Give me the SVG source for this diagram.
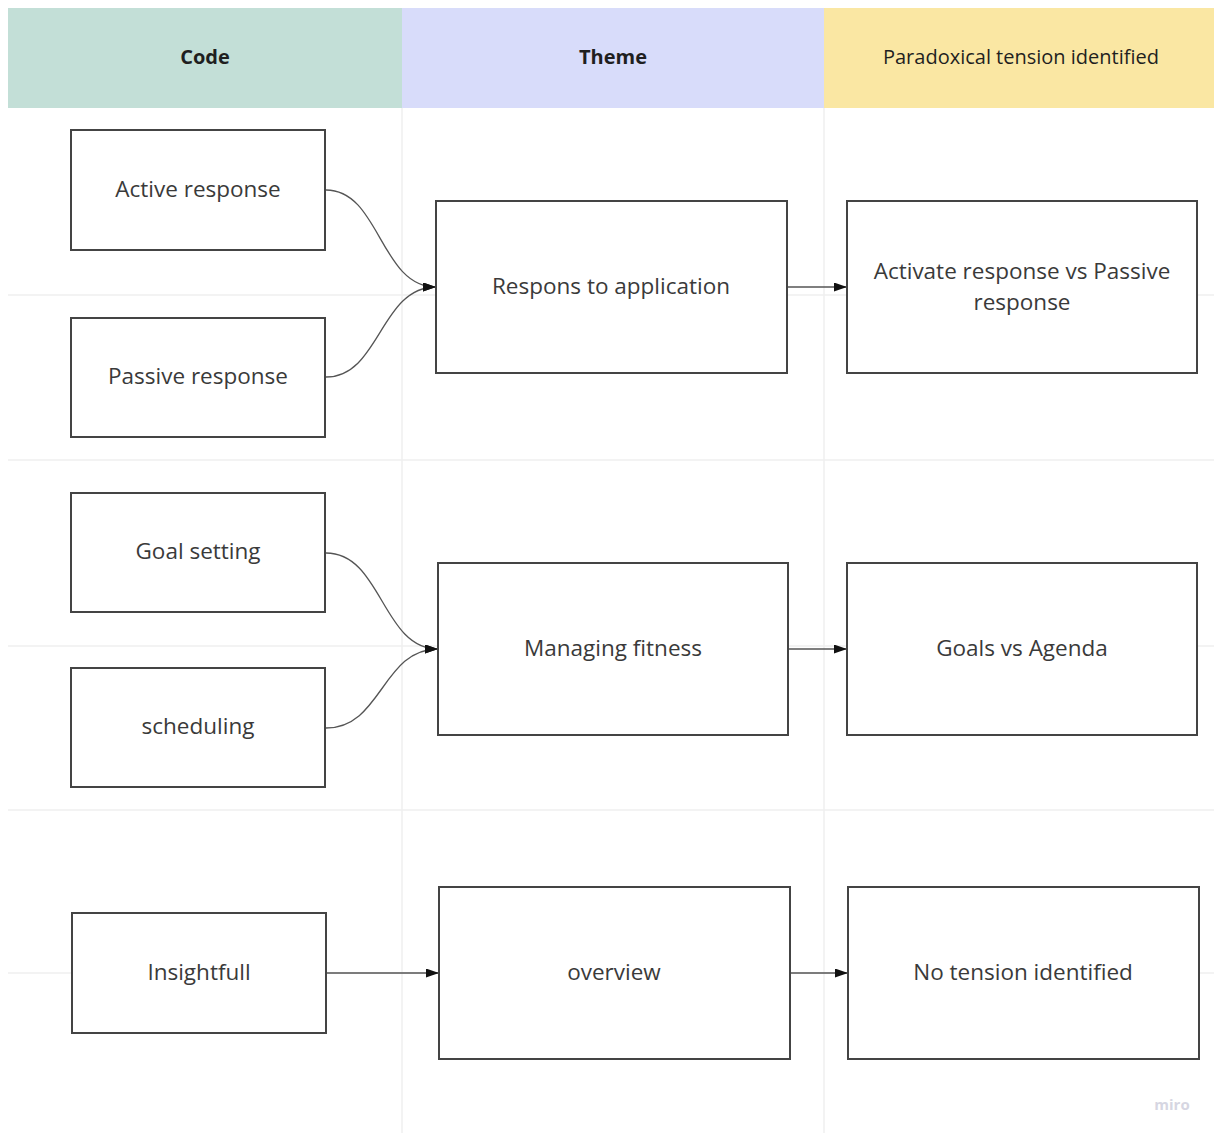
<svg xmlns="http://www.w3.org/2000/svg" width="1214" height="1133" viewBox="0 0 1214 1133">
  <style>
    .grid { stroke: #efefef; stroke-width: 1.5; fill: none; }
    .box { fill: #ffffff; stroke: #444444; stroke-width: 2; }
    .label { font-family: "Open Sans", "Noto Sans", sans-serif; font-size: 22.5px; fill: #3a3a3a; text-anchor: middle; }
    .head { font-family: "Open Sans", "Noto Sans", sans-serif; font-size: 20px; fill: #1f1f1f; text-anchor: middle; }
    .link { fill: none; stroke: #555555; stroke-width: 1.3; }
  </style>
  <defs>
    <marker id="arrow" viewBox="0 0 13 9" refX="13" refY="4.5" markerWidth="13" markerHeight="9" markerUnits="userSpaceOnUse" orient="auto">
      <path d="M0,0 L13,4.5 L0,9 Z" fill="#111111"/>
    </marker>
  </defs>
  <rect width="1214" height="1133" fill="#ffffff"/>

  <!-- table grid -->
  <g id="grid">
    <line class="grid" x1="402" y1="108" x2="402" y2="1133"/>
    <line class="grid" x1="824" y1="108" x2="824" y2="1133"/>
    <line class="grid" x1="8" y1="295" x2="1214" y2="295"/>
    <line class="grid" x1="8" y1="460" x2="1214" y2="460"/>
    <line class="grid" x1="8" y1="646" x2="1214" y2="646"/>
    <line class="grid" x1="8" y1="810" x2="1214" y2="810"/>
    <line class="grid" x1="8" y1="973" x2="1214" y2="973"/>
  </g>

  <!-- column headers -->
  <g id="header-code">
    <rect x="8" y="8" width="394" height="100" fill="#c3dfd7"/>
    <text class="head" x="205" y="64" font-weight="bold">Code</text>
  </g>
  <g id="header-theme">
    <rect x="402" y="8" width="422" height="100" fill="#d8dcfa"/>
    <text class="head" x="613" y="64" font-weight="bold">Theme</text>
  </g>
  <g id="header-tension">
    <rect x="824" y="8" width="390" height="100" fill="#fae7a3"/>
    <text class="head" x="1021" y="64">Paradoxical tension identified</text>
  </g>

  <!-- connectors -->
  <g id="connectors">
    <path class="link" d="M326,190 C380,190 380,287 436,287" marker-end="url(#arrow)"/>
    <path class="link" d="M326,377 C380,377 380,287 436,287" marker-end="url(#arrow)"/>
    <path class="link" d="M787,287 L847,287" marker-end="url(#arrow)"/>
    <path class="link" d="M326,553 C382,553 382,649 438,649" marker-end="url(#arrow)"/>
    <path class="link" d="M326,728 C382,728 382,649 438,649" marker-end="url(#arrow)"/>
    <path class="link" d="M788,649 L847,649" marker-end="url(#arrow)"/>
    <path class="link" d="M326,973 L439,973" marker-end="url(#arrow)"/>
    <path class="link" d="M790,973 L848,973" marker-end="url(#arrow)"/>
  </g>

  <!-- nodes -->
  <g id="active-response">
    <rect class="box" x="71" y="130" width="254" height="120"/>
    <text class="label" x="198" y="197">Active response</text>
  </g>
  <g id="passive-response">
    <rect class="box" x="71" y="318" width="254" height="119"/>
    <text class="label" x="198" y="384">Passive response</text>
  </g>
  <g id="respons-to-application">
    <rect class="box" x="436" y="201" width="351" height="172"/>
    <text class="label" x="611" y="294">Respons to application</text>
  </g>
  <g id="active-vs-passive">
    <rect class="box" x="847" y="201" width="350" height="172"/>
    <text class="label" x="1022" y="279">Activate response vs Passive</text>
    <text class="label" x="1022" y="310">response</text>
  </g>
  <g id="goal-setting">
    <rect class="box" x="71" y="493" width="254" height="119"/>
    <text class="label" x="198" y="559">Goal setting</text>
  </g>
  <g id="scheduling">
    <rect class="box" x="71" y="668" width="254" height="119"/>
    <text class="label" x="198" y="734">scheduling</text>
  </g>
  <g id="managing-fitness">
    <rect class="box" x="438" y="563" width="350" height="172"/>
    <text class="label" x="613" y="656">Managing fitness</text>
  </g>
  <g id="goals-vs-agenda">
    <rect class="box" x="847" y="563" width="350" height="172"/>
    <text class="label" x="1022" y="656">Goals vs Agenda</text>
  </g>
  <g id="insightfull">
    <rect class="box" x="72" y="913" width="254" height="120"/>
    <text class="label" x="199" y="980">Insightfull</text>
  </g>
  <g id="overview">
    <rect class="box" x="439" y="887" width="351" height="172"/>
    <text class="label" x="614" y="980">overview</text>
  </g>
  <g id="no-tension">
    <rect class="box" x="848" y="887" width="351" height="172"/>
    <text class="label" x="1023" y="980">No tension identified</text>
  </g>

  <!-- watermark -->
  <text x="1172" y="1110" font-family="Open Sans, sans-serif" font-size="15" font-weight="bold" fill="#d6d6e2" text-anchor="middle">miro</text>
</svg>
